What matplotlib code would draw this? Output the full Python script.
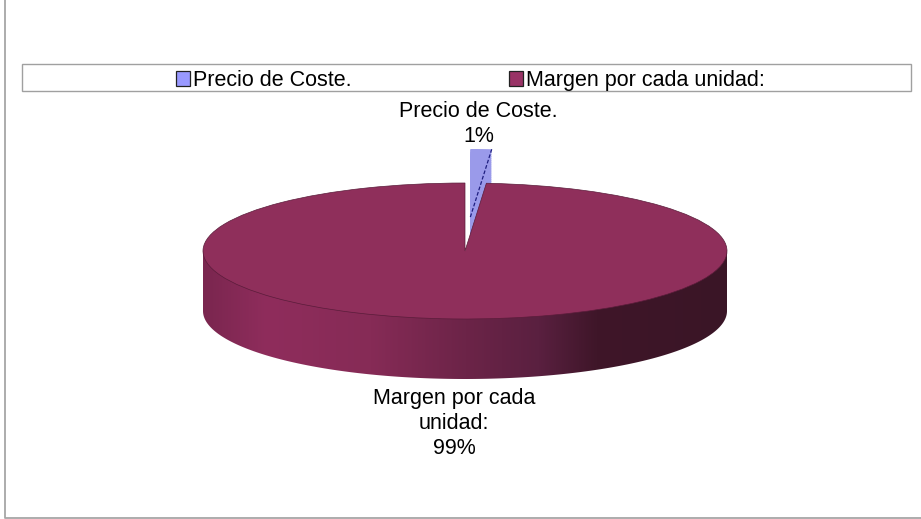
import numpy as np
import matplotlib
matplotlib.use('Agg')
import matplotlib.pyplot as plt
from matplotlib.colors import LinearSegmentedColormap
from matplotlib.patches import Patch, Polygon, Rectangle

plt.rcParams['font.family'] = ['Liberation Sans', 'DejaVu Sans']

names = ['Precio de Coste.', 'Margen por cada unidad:']
values = [1.3, 98.7]
label_text = ['Precio de Coste.\n1%', 'Margen por cada\nunidad:\n99%']
colors = ['#9a9aea', '#8f2f5b']
legend_colors = ['#9999ff', '#993366']
side_stops = ['#7a264f', '#8f2d5c', '#862b56', '#6c2448', '#5a2040', '#3f1629', '#3a1526']
stop_pos = [0.0, 0.12, 0.32, 0.5, 0.64, 0.75, 1.0]

W, H = 921, 519
cx, cy = 465, 251
rx, ry = 262, 68
depth = 60 / ry


def fx(x):
    return x / W


def fy(y):
    return 1 - y / H


fig = plt.figure(figsize=(W / 100, H / 100), dpi=100, facecolor='white')
ax = fig.add_axes([0, 0, 1, 1])

# exploded slice: layers for the side, then the top face
for d in np.arange(depth, 0, -0.03):
    ax.pie(values, colors=[colors[0], 'none'], startangle=90, counterclock=False,
           explode=[0.5, 0], center=(0, -d), frame=True)
blue_top, _ = ax.pie(values, colors=[colors[0], 'none'], startangle=90, counterclock=False,
                     explode=[0.5, 0], frame=True)
for w in blue_top:
    w.set_zorder(2)

# side of the big slice with shading
t = np.linspace(np.pi, 2 * np.pi, 200)
side_x = np.r_[np.cos(t), [1, -1]]
side_y = np.r_[np.sin(t) - depth, [0, 0]]
cmap = LinearSegmentedColormap.from_list('side', list(zip(stop_pos, side_stops)))
im = ax.imshow(np.linspace(0, 1, 256)[None, :], cmap=cmap, aspect='auto',
               extent=(-1, 1, -1 - depth, 0), zorder=3)
im.set_clip_path(Polygon(np.c_[side_x, side_y], transform=ax.transData))

# top of the big slice
big_top, _ = ax.pie(values, colors=['none', colors[1]], startangle=90, counterclock=False, frame=True)
big_top[1].set_zorder(4)
big_top[1].set_edgecolor('#5a1c3a')
big_top[1].set_linewidth(0.5)

# dashed edge on the exploded slice
wedge = blue_top[0]
ang = np.deg2rad(wedge.theta1)
ax.plot([wedge.center[0], wedge.center[0] + np.cos(ang)],
        [wedge.center[1], wedge.center[1] + np.sin(ang)],
        color='#1f1f80', lw=0.9, ls=(0, (3, 1.5)), zorder=3)

ax.set_aspect('auto')
ax.set_xlim(-cx / rx, (W - cx) / rx)
ax.set_ylim((cy - H) / ry, cy / ry)
ax.axis('off')

# chart frame and legend box
fig.add_artist(plt.Line2D([fx(4.5), fx(4.5), 1], [1, fy(518), fy(518)], color='#a6a6a6', lw=1.3))
fig.add_artist(Rectangle((fx(22), fy(91)), (911 - 22) / W, 27 / H, transform=fig.transFigure,
                         facecolor='white', edgecolor='#a0a0a0', lw=1))

handles = [Patch(facecolor=c, edgecolor='#222222', lw=0.9) for c in legend_colors]
fig.legend(handles, names, ncol=2, loc='center', bbox_to_anchor=(fx(470.5), fy(80.5)),
           frameon=False, fontsize=15.5, handlelength=0.65, handleheight=0.65,
           handletextpad=0.14, columnspacing=7.3, borderpad=0, borderaxespad=0)

fig.text(fx(478.5), fy(124), label_text[0], ha='center', va='center', fontsize=15.5, linespacing=1.25)
fig.text(fx(454), fy(423.5), label_text[1], ha='center', va='center', fontsize=15.5, linespacing=1.25)

fig.savefig('out.png', dpi=100)
